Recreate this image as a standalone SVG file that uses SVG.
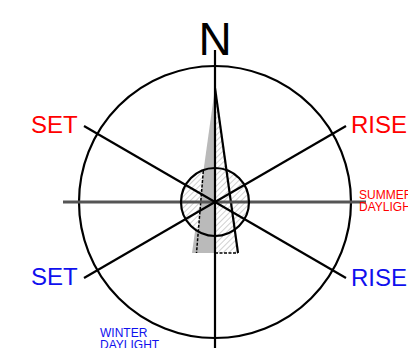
<svg xmlns="http://www.w3.org/2000/svg" width="408" height="348" viewBox="0 0 408 348">
<style>
.lbl{font-family:"Liberation Sans",Arial,sans-serif}
.big{font-size:24px}
.sm{font-size:12px}
.red{fill:#ff0000}
.blue{fill:#1010ee}
.ln{stroke:#000;stroke-width:2.2;fill:none}
</style>
<defs>
<pattern id="hatch" patternUnits="userSpaceOnUse" width="4" height="4" patternTransform="rotate(45)">
<rect width="4" height="4" fill="#fff"/>
<line x1="0" y1="0" x2="0" y2="4" stroke="#c4c4c4" stroke-width="1.6"/>
</pattern>
<clipPath id="inner"><circle cx="215" cy="202" r="34"/></clipPath>
</defs>
<rect width="408" height="348" fill="#fff"/>
<g id="outer-circle"><circle cx="215" cy="202" r="136" class="ln"/></g>
<g id="needle">
<polygon points="215,88 192,253 215,253" fill="#bababa"/>
<circle cx="215" cy="202" r="34" fill="url(#hatch)"/>
<polygon points="203.5,165 215,165 215,240 197.5,240" fill="#bababa" clip-path="url(#inner)"/>
<polygon points="215,88 238,253 215,253" fill="url(#hatch)"/>
<line x1="203.3" y1="171" x2="196.5" y2="253" stroke="#000" stroke-width="1.5" stroke-dasharray="3,1.5"/>
<line x1="215" y1="253" x2="238" y2="253" stroke="#000" stroke-width="1.5" stroke-dasharray="3,1.5"/>
<line x1="215" y1="88" x2="238" y2="253" class="ln"/>
</g>
<g id="connectors">
<line x1="63" y1="202" x2="366" y2="202" stroke="#555" stroke-width="3"/>
<line x1="84" y1="126" x2="346" y2="278" class="ln"/>
<line x1="84" y1="278" x2="346" y2="126" class="ln"/>
<line x1="215" y1="50" x2="215" y2="348" class="ln"/>
</g>
<g id="inner-circle"><circle cx="215" cy="202" r="34" class="ln"/></g>
<g id="labels" class="lbl">
<text x="215" y="55" font-size="46" text-anchor="middle" fill="#000">N</text>
<text x="31" y="133" class="big red">SET</text>
<text x="351" y="133" class="big red">RISE</text>
<text x="31" y="285" class="big blue">SET</text>
<text x="351" y="286" class="big blue">RISE</text>
<text x="359" y="198.5" class="sm red">SUMMER</text>
<text x="359" y="210.5" class="sm red">DAYLIGHT</text>
<text x="100" y="336.5" class="sm blue">WINTER</text>
<text x="100" y="348.5" class="sm blue">DAYLIGHT</text>
</g>
</svg>
